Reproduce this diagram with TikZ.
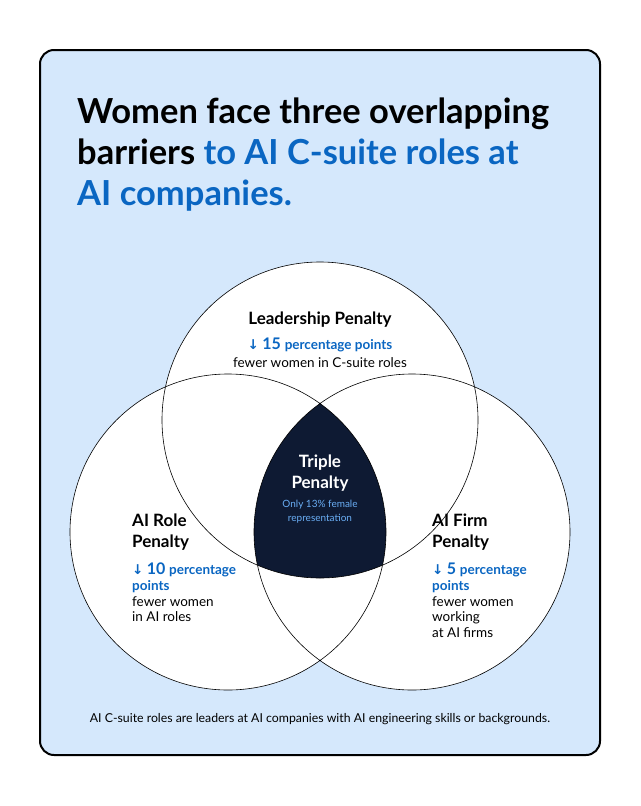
\documentclass[tikz,border=0pt]{standalone}
\usepackage{fontspec}
\setmainfont{Lato}
\newfontfamily\arrowfont{DejaVu Sans}
\definecolor{panelblue}{HTML}{D5E8FC}
\definecolor{textblue}{HTML}{0A66C2}
\definecolor{navy}{HTML}{0E1A33}
\definecolor{lightblue}{HTML}{6AAEF5}
\newcommand{\dn}{{\arrowfont\char"2193}}
\begin{document}
\begin{tikzpicture}[x=1pt,y=-1pt,
    ring/.style={draw=black,line width=0.6pt},
    head/.style={font=\bfseries\fontsize{17}{21}\selectfont,align=left,anchor=north west},
    bluetxt/.style={font=\bfseries\fontsize{13.5}{16}\selectfont,text=textblue,align=left,anchor=north west},
    plain/.style={font=\fontsize{13.5}{15.5}\selectfont,align=left,anchor=north west}]
    \useasboundingbox (0,0) rectangle (640,806);
    \fill[white] (0,0) rectangle (640,806);
    \draw[fill=panelblue,line width=2pt,rounded corners=14pt] (40,50) rectangle (600,755);
    % title
    \node[anchor=north west,align=left,font=\bfseries\fontsize{34.5}{41}\selectfont,inner sep=0] (title) at (77,98)
        {Women face three overlapping\\barriers \textcolor{textblue}{to AI C-suite roles at}\\\textcolor{textblue}{AI companies.}};
    % circles
    \def\r{158}
    \coordinate (top) at (320,420);
    \coordinate (lft) at (228,532);
    \coordinate (rgt) at (412,532);
    \fill[white] (top) circle (\r) (lft) circle (\r) (rgt) circle (\r);
    \begin{scope}
        \clip (top) circle (\r);
        \clip (lft) circle (\r);
        \fill[navy] (rgt) circle (\r);
    \end{scope}
    \draw[ring] (top) circle (\r) (lft) circle (\r) (rgt) circle (\r);
    % top circle
    \node[font=\bfseries\fontsize{17}{19}\selectfont] (lead) at (320,320) {Leadership Penalty};
    \node[font=\bfseries\fontsize{13.5}{15}\selectfont,text=textblue] (leadv) at (320,345) {\dn\ \fontsize{16}{15}\selectfont 15 \fontsize{13.5}{15}\selectfont percentage points};
    \node[font=\fontsize{13.5}{15}\selectfont] (leadt) at (320,363) {fewer women in C-suite roles};
    % centre
    \node[font=\bfseries\fontsize{17}{21}\selectfont,text=white,align=center] (triple) at (320,473) {Triple\\Penalty};
    \node[font=\fontsize{10}{14}\selectfont,text=lightblue,align=center] (triplet) at (320,512) {Only 13\% female\\representation};
    % left circle
    \node[head,inner sep=0] (role) at (132,514) {AI Role\\Penalty};
    \node[bluetxt,inner sep=0] (rolev) at (132,563) {\dn\ \fontsize{16}{16}\selectfont 10 \fontsize{13.5}{16}\selectfont percentage\\points};
    \node[plain,inner sep=0] (rolet) at (132,596) {fewer women\\in AI roles};
    % right circle
    \node[head,inner sep=0] (firm) at (432,514) {AI Firm\\Penalty};
    \node[bluetxt,inner sep=0] (firmv) at (432,563) {\dn\ \fontsize{16}{16}\selectfont 5 \fontsize{13.5}{16}\selectfont percentage\\points};
    \node[plain,inner sep=0] (firmt) at (432,596) {fewer women\\working\\at AI firms};
    % footer
    \node[font=\fontsize{12.3}{14}\selectfont] (foot) at (320,719) {AI C-suite roles are leaders at AI companies with AI engineering skills or backgrounds.};
\end{tikzpicture}
\end{document}
